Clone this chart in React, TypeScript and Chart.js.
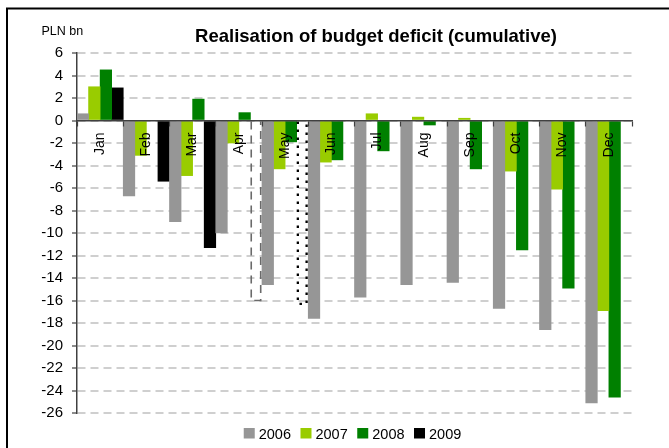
import React, { useEffect, useRef } from 'react';
import { Chart, registerables } from 'chart.js';

Chart.register(...registerables);

// ---------- data ----------
const months = ['Jan', 'Feb', 'Mar', 'Apr', 'May', 'Jun', 'Jul', 'Aug', 'Sep', 'Oct', 'Nov', 'Dec'];
const seriesLabels = ['2006', '2007', '2008', '2009'];
const deficit2006 = [0.6, -6.7, -9.0, -10.0, -14.6, -17.6, -15.7, -14.6, -14.4, -16.7, -18.6, -25.1];
const deficit2007 = [3.0, -3.1, -4.9, -2.0, -4.3, -3.7, 0.6, 0.3, 0.2, -4.5, -6.1, -16.9];
const deficit2008 = [4.5, 0.0, 1.9, 0.7, -1.9, -3.5, -2.7, -0.4, -4.3, -11.5, -14.9, -24.6];
const deficit2009 = [2.9, -5.4, -11.3, null, null, null, null, null, null, null, null, null];
const projection2009 = [null, null, null, -16.0, -16.3, null, null, null, null, null, null, null];
const yMin = -26;
const yMax = 6;
const yStep = 2;
const titleText = 'Realisation of budget deficit (cumulative)';
const unitText = 'PLN bn';

// ---------- styles ----------
const COLORS = ['#969696', '#99cc00', '#008000', '#000000'];
const FONT = '"Liberation Sans", Arial, Helvetica, sans-serif';
const AXIS = '#404040';
const projectionStyle: Record<string, { color: string; dash: number[]; width: number }> = {
  Apr: { color: '#6a6a6a', dash: [8, 6], width: 1.6 },
  May: { color: '#000000', dash: [2.5, 5.5], width: 2.3 },
};

const data2009 = months.map((_, i) => (deficit2009[i] ?? projection2009[i] ?? null));
const colors2009 = months.map((_, i) => (deficit2009[i] != null ? COLORS[3] : 'rgba(0,0,0,0)'));

const decorPlugin = {
  id: 'decor',
  afterDatasetsDraw(chart: any) {
    const ctx = chart.ctx as CanvasRenderingContext2D;
    const meta = chart.getDatasetMeta(3);
    months.forEach((m, i) => {
      if (projection2009[i] == null) return;
      const st = projectionStyle[m];
      const el = meta.data[i];
      if (!el || !st) return;
      const { x, y, base, width } = el.getProps(['x', 'y', 'base', 'width'], true);
      const l = x - width / 2 + st.width / 2;
      const r = x + width / 2 - st.width / 2 - 0.5;
      ctx.save();
      ctx.strokeStyle = st.color;
      ctx.lineWidth = st.width;
      ctx.setLineDash(st.dash);
      ctx.beginPath();
      ctx.moveTo(l, base);
      ctx.lineTo(l, y);
      ctx.lineTo(r, y);
      ctx.lineTo(r, base);
      ctx.stroke();
      ctx.restore();
    });
  },
  afterDraw(chart: any) {
    const ctx = chart.ctx as CanvasRenderingContext2D;
    const area = chart.chartArea;
    ctx.save();
    // outer frame (top + left visible)
    ctx.strokeStyle = '#000';
    ctx.lineWidth = 2;
    ctx.beginPath();
    ctx.moveTo(7, chart.height);
    ctx.lineTo(7, 8.5);
    ctx.lineTo(chart.width, 8.5);
    ctx.stroke();

    // title
    ctx.fillStyle = '#000';
    ctx.font = 'bold 18.5px ' + FONT;
    ctx.textAlign = 'center';
    ctx.textBaseline = 'alphabetic';
    ctx.fillText(titleText, 376, 41.7);

    // unit
    ctx.font = '12.5px ' + FONT;
    ctx.textAlign = 'left';
    ctx.fillText(unitText, 41.5, 35);

    // legend
    ctx.font = '14.5px ' + FONT;
    const box = 11;
    const gapText = 4;
    const gapItem = 9.5;
    const widths = chart.data.datasets.map((d: any) => box + gapText + ctx.measureText(d.label).width);
    const total = widths.reduce((a: number, b: number) => a + b, 0) + gapItem * (widths.length - 1);
    let x = (area.left + area.right) / 2 - 2 - total / 2;
    const yBox = 428;
    chart.data.datasets.forEach((d: any, i: number) => {
      ctx.fillStyle = COLORS[i];
      ctx.fillRect(x, yBox, box, box - 0.5);
      ctx.fillStyle = '#000';
      ctx.textBaseline = 'alphabetic';
      ctx.fillText(d.label, x + box + gapText, yBox + 10.5);
      x += widths[i] + gapItem;
    });
    ctx.restore();
  },
};

export default function App() {
  const ref = useRef<HTMLCanvasElement | null>(null);
  useEffect(() => {
    if (!ref.current) return;
    const chart = new Chart(ref.current, {
      type: 'bar',
      data: {
        labels: months,
        datasets: [
          { label: seriesLabels[0], data: deficit2006, backgroundColor: COLORS[0] },
          { label: seriesLabels[1], data: deficit2007, backgroundColor: COLORS[1] },
          { label: seriesLabels[2], data: deficit2008, backgroundColor: COLORS[2] },
          { label: seriesLabels[3], data: data2009 as any, backgroundColor: colors2009 },
        ],
      },
      options: {
        responsive: false,
        animation: false,
        devicePixelRatio: 1,
        layout: { padding: { left: 0, top: 53, right: 37, bottom: 35 } },
        datasets: { bar: { categoryPercentage: 1, barPercentage: 1, borderWidth: 0 } },
        plugins: {
          legend: { display: false },
          title: { display: false },
          tooltip: { enabled: false },
        },
        scales: {
          x: {
            position: { y: 0 } as any,
            grid: {
              display: true,
              drawOnChartArea: false,
              drawTicks: true,
              tickLength: 5,
              color: AXIS,
              tickColor: AXIS,
              tickWidth: 1.2,
              offset: true,
              z: 1,
            },
            border: { display: true, color: AXIS, width: 1.5, z: 1 },
            ticks: {
              autoSkip: false,
              minRotation: 90,
              maxRotation: 90,
              padding: 7,
              color: '#000',
              font: { family: FONT, size: 14 },
              z: 1,
            },
          },
          y: {
            min: yMin,
            max: yMax,
            afterFit(scale: any) {
              scale.width = 77;
            },
            grid: {
              color: '#cfcfcf',
              lineWidth: 2,
              drawTicks: true,
              tickLength: 5,
              tickColor: AXIS,
              tickWidth: 1.2,
              tickBorderDash: [],
            },
            border: { display: true, color: AXIS, width: 1.5, dash: [8, 5] },
            ticks: {
              stepSize: yStep,
              padding: 9,
              color: '#000',
              font: { family: FONT, size: 15 },
            },
          },
        },
      },
      plugins: [decorPlugin],
    });
    return () => chart.destroy();
  }, []);
  return (
    <div style={{ position: 'fixed', left: 0, top: 0, width: 669, height: 448, background: '#fff' }}>
      <canvas ref={ref} width={669} height={448} style={{ display: 'block', width: 669, height: 448 }} />
    </div>
  );
}
